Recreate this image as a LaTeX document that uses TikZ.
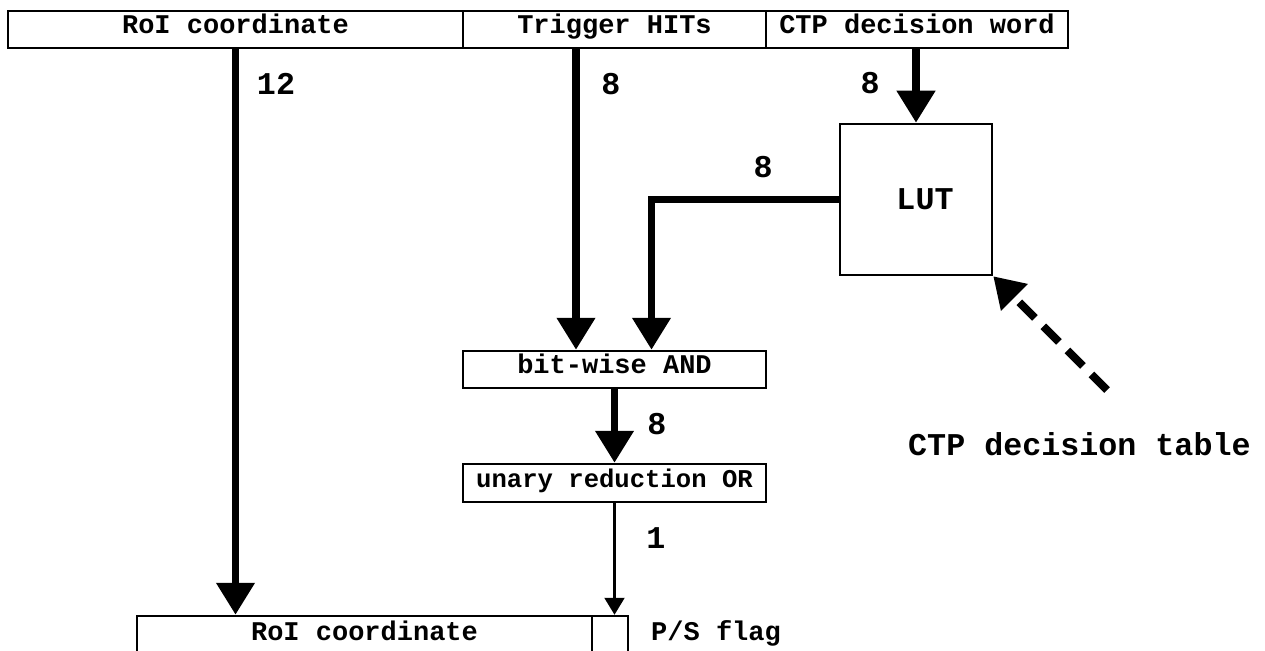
\documentclass[tikz,border=0pt]{standalone}
\usepackage{fontspec}
\setmonofont{Liberation Mono}
\usetikzlibrary{arrows.meta}

\tikzset{
  smallfont/.style={font=\ttfamily\bfseries\fontsize{27}{30}\selectfont},
  bigfont/.style={font=\ttfamily\bfseries\fontsize{31.7}{35}\selectfont},
  field/.style={draw, line width=2.5pt, inner sep=0pt, text height=15pt, text depth=7pt, smallfont},
  unit/.style={field},
  lutbox/.style={draw, line width=2.5pt, minimum width=152pt, minimum height=151pt, inner sep=0pt, bigfont},
  bus/.style={line width=7.5pt, line join=miter, -{Triangle[length=32pt,width=37pt]}},
  wire/.style={line width=2.2pt, -{Triangle[length=17pt,width=20pt]}},
  cfgline/.style={line width=8pt, dash pattern=on 22pt off 12pt, -{Triangle[length=30pt,width=36pt]}},
  num/.style={inner sep=0pt, bigfont},
}

\begin{document}
\begin{tikzpicture}[x=1pt, y=-1pt]
\useasboundingbox (0,0) rectangle (1265,650);

% input word fields
\node[field, minimum width=455pt, minimum height=37pt] (roiTop) at (235.5,29.5) {RoI coordinate};
\node[field, minimum width=303pt, minimum height=37pt] (trig) at (614.5,29.5) {Trigger HITs};
\node[field, minimum width=302pt, minimum height=37pt] (ctp) at (917,29.5) {CTP decision word};

% look-up table
\node[lutbox] (lut) at (916,199.5) {\hspace*{18pt}LUT};

% logic stages
\node[unit, minimum width=303pt, minimum height=37pt] (and) at (614.5,369.5) {bit-wise AND};
\node[unit, minimum width=303pt, minimum height=38pt,
      font=\ttfamily\bfseries\fontsize{25.6}{28}\selectfont] (unary) at (614.5,483) {unary reduction OR};

% output word fields (running past the lower edge)
\node[field, minimum width=455pt, minimum height=40pt] (roiBot) at (364.5,636) {RoI coordinate};
\node[field, minimum width=36pt, minimum height=40pt] (flag) at (610,636) {};

% buses
\draw[bus] (roiTop.south) -- (roiTop.south |- roiBot.north);
\draw[bus] ([xshift=-38.5pt]trig.south) -- ([xshift=-38.5pt]trig.south |- and.north);
\draw[bus] (lut.north |- ctp.south) -- (lut.north);
\draw[bus] (lut.west) -| ([xshift=37pt]and.north);
\draw[bus] (and.south) -- (unary.north);
\draw[wire] (unary.south) -- (unary.south |- flag.north);

% decision table input
\coordinate (tabTail) at (1107,390);
\draw[cfgline] (tabTail) -- (lut.south east);

% bus widths
\node[num] (w12) at (276,84) {12};
\node[num] (wTrig) at (611,84) {8};
\node[num] (wCtp) at (870,83) {8};
\node[num] (wLut) at (763,167) {8};
\node[num] (wAnd) at (657,424) {8};
\node[num] (wOr) at (656,538) {1};

% other labels
\node[smallfont, inner sep=0pt, anchor=base west] (ps) at (651,640) {P/S flag};
\node[bigfont, inner sep=0pt, anchor=base west] (tab) at (908,455) {CTP decision table};
\end{tikzpicture}
\end{document}
